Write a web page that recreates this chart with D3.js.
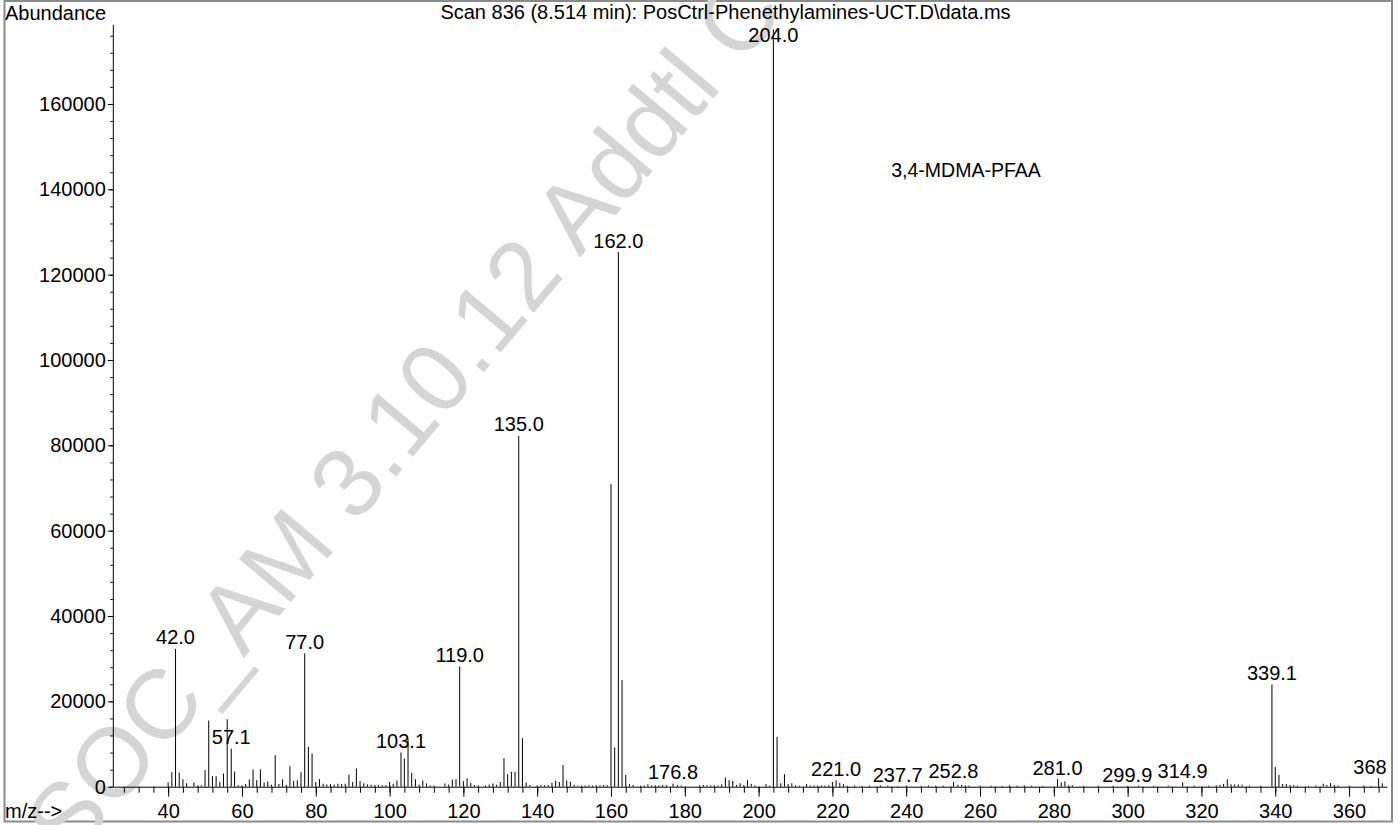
<!DOCTYPE html>
<html>
<head>
<meta charset="utf-8">
<script src="https://cdn.jsdelivr.net/npm/d3@7"></script>
<style>
  html, body { margin: 0; padding: 0; background: #fff; }
  svg { display: block; }
  text { font-family: "Liberation Sans", Arial, Helvetica, sans-serif; fill: #000; }
</style>
</head>
<body>
<svg id="chart" width="1400" height="825"></svg>
<script>
// ---- data ----
const mz = [
  40, 41, 42, 43, 44, 45, 47, 48, 49, 50, 51, 52, 53, 54, 55, 56, 57.1, 58, 59, 60,
  61, 62, 63, 64, 65, 66, 67, 68, 69, 70, 71, 72, 73, 74, 75, 76, 77, 78, 79, 80,
  81, 82, 83, 84, 85, 86, 87, 88, 89, 90, 91, 92, 93, 94, 95, 96, 97, 98, 99, 100,
  101, 102, 103.1, 104, 105, 106, 107, 108, 109, 110, 111, 112, 115, 116, 117, 118, 119, 120,
  121, 122, 123, 124, 126, 127, 128, 129, 130, 131, 132, 133, 134, 135, 136, 137, 138, 140,
  141, 142, 143, 144, 145, 146, 147, 148, 149, 150, 151, 152, 153, 154, 155, 156, 157, 158, 159,
  160, 161, 162, 163, 164, 165, 166, 168, 169, 170, 171, 172, 173, 174, 175, 176.8, 178, 179,
  184, 185, 186, 187, 188, 189, 190, 191, 192, 193, 194, 195, 196, 197, 198, 199, 202, 203,
  204, 205, 206, 207, 208, 209, 210, 211, 213, 214, 215, 216, 217, 218, 219, 220, 221, 222, 223, 224,
  226, 228, 230, 233, 235, 237.7, 240, 244, 246, 248, 250, 252.8, 254, 255, 256, 257, 260, 263, 266, 268,
  270, 272, 274, 277, 281, 282, 283, 284, 285, 288, 292, 296, 299.9, 303, 307, 311, 314.9, 318, 322, 324,
  325, 326, 327, 328, 329, 330, 331, 333, 336, 339.1, 340, 341, 342, 343, 344, 345, 346, 349, 351, 353,
  354, 355, 356, 357, 360, 364, 366, 368, 369
];
const abundance = [
  1000, 3400, 32300, 3330, 1760, 800, 1000, 300, 300, 3870, 15500, 2460, 2460, 1150, 3090, 15800, 8900, 3560, 350, 300,
  650, 1700, 4050, 1550, 4030, 950, 1200, 450, 7390, 650, 1720, 450, 4800, 1330, 1500, 3400, 31250, 9330, 7780, 1100,
  1760, 700, 500, 600, 500, 700, 650, 700, 2800, 1100, 4260, 1300, 800, 550, 450, 400, 350, 350, 400, 1120,
  700, 1450, 8000, 6600, 11300, 3240, 1760, 500, 1450, 800, 300, 250, 750, 500, 1690, 1760, 28180, 1290,
  1960, 900, 400, 300, 300, 500, 750, 450, 1100, 6700, 2930, 3500, 3450, 82200, 11350, 1000, 400, 300,
  400, 350, 400, 900, 1400, 1100, 5070, 1480, 1150, 450, 250, 300, 300, 350, 300, 350, 300, 350, 350,
  70900, 9190, 125300, 24970, 2740, 600, 400, 250, 300, 550, 300, 350, 300, 400, 350, 700, 400, 300,
  300, 400, 350, 300, 350, 300, 550, 2150, 1520, 1400, 400, 800, 400, 1520, 650, 300, 650, 250,
  177500, 11680, 800, 2930, 600, 800, 300, 250, 600, 300, 300, 250, 300, 250, 350, 1100, 1520, 900, 600, 250,
  250, 200, 250, 300, 250, 120, 250, 200, 300, 250, 250, 1100, 450, 400, 300, 250, 250, 250, 200, 300,
  250, 300, 250, 200, 1760, 1000, 1250, 300, 350, 200, 250, 200, 120, 250, 200, 250, 1000, 300, 250, 300,
  400, 650, 1760, 550, 500, 500, 450, 250, 200, 23960, 4650, 2750, 650, 650, 400, 350, 250, 200, 250, 700,
  400, 850, 400, 300, 250, 250, 200, 1950, 800
];
const labelMz   = [42, 57.1, 77, 103.1, 119, 135, 162, 176.8, 204, 221, 237.7, 252.8, 281, 299.9, 314.9, 339.1, 368];
const labelText = ["42.0", "57.1", "77.0", "103.1", "119.0", "135.0", "162.0", "176.8", "204.0", "221.0",
                   "237.7", "252.8", "281.0", "299.9", "314.9", "339.1", "368"];
const xMajorTicks = [40, 60, 80, 100, 120, 140, 160, 180, 200, 220, 240, 260, 280, 300, 320, 340, 360];
const yMajorTicks = [0, 20000, 40000, 60000, 80000, 100000, 120000, 140000, 160000];
const titleText = "Scan 836 (8.514 min): PosCtrl-Phenethylamines-UCT.D\\data.ms";
const compoundText = "3,4-MDMA-PFAA";
const yAxisTitle = "Abundance";
const xAxisTitle = "m/z-->";
const watermarkText = "SOC_AM 3.10.12 Addtl C";

// ---- layout ----
const svg = d3.select("#chart");
const x = d3.scaleLinear().domain([25, 370.2]).range([112.8, 1386.7]);
const y = d3.scaleLinear().domain([0, 178650]).range([786.7, 24.4]);

// frame
svg.append("rect").attr("x", 4.5).attr("y", 1).attr("width", 1387.5).attr("height", 820.5)
  .attr("fill", "none").attr("stroke", "#8a8a8a").attr("stroke-width", 2);

// watermark (clipped to the frame like the reference)
svg.append("clipPath").attr("id", "frameClip")
  .append("rect").attr("x", 0).attr("y", 0).attr("width", 1400).attr("height", 825);
svg.append("g").attr("clip-path", "url(#frameClip)")
  .append("text")
  .attr("transform", "translate(72,863) rotate(-50)")
  .attr("font-size", 98)
  .style("fill", "#d5d5d5")
  .text(watermarkText);

// minor ticks
const xMinor = d3.range(28, 370, 4);
svg.append("g").attr("transform", `translate(0,${y(0)})`)
  .call(d3.axisBottom(x).tickValues(xMinor).tickSize(6).tickSizeOuter(0).tickFormat(""))
  .call(g => g.select(".domain").remove());
const yMinor = d3.range(0, 178000, 4000);
svg.append("g").attr("transform", `translate(${x(25)},0)`)
  .call(d3.axisLeft(y).tickValues(yMinor).tickSize(2.5).tickSizeOuter(0).tickFormat(""))
  .call(g => g.select(".domain").remove());

// major axes
const xAxis = svg.append("g").attr("transform", `translate(0,${y(0)})`)
  .call(d3.axisBottom(x).tickValues(xMajorTicks).tickSize(10).tickSizeOuter(0).tickPadding(7));
xAxis.selectAll("text").attr("font-size", 20).style("font-family", "Liberation Sans, Arial, sans-serif").style("fill", "#000");
xAxis.selectAll("line, path").attr("stroke", "#000");

const yAxis = svg.append("g").attr("transform", `translate(${x(25)},0)`)
  .call(d3.axisLeft(y).tickValues(yMajorTicks).tickSize(5).tickSizeOuter(0).tickPadding(2).tickFormat(d3.format("d")));
yAxis.selectAll("text").attr("font-size", 20).style("font-family", "Liberation Sans, Arial, sans-serif").style("fill", "#000");
yAxis.selectAll("line, path").attr("stroke", "#000");

// spectrum sticks
const peaks = mz.map((m, i) => ({ m, v: abundance[i] }));
svg.append("g").selectAll("line").data(peaks).join("line")
  .attr("x1", d => x(d.m)).attr("x2", d => x(d.m))
  .attr("y1", y(0)).attr("y2", d => y(d.v))
  .attr("stroke", "#000").attr("stroke-width", 1);

// peak labels
const labels = labelMz.map((m, i) => {
  const p = peaks.find(q => q.m === m);
  return { m, v: p ? p.v : 0, t: labelText[i] };
});
const rightLimit = x.range()[1];
svg.append("g").selectAll("text").data(labels).join("text")
  .attr("y", d => Math.max(y(d.v) - 4.5, 42))
  .attr("text-anchor", "middle")
  .attr("font-size", 20)
  .text(d => d.t)
  .each(function (d) {
    const w = this.getComputedTextLength();
    d3.select(this).attr("x", Math.min(x(d.m), rightLimit - w / 2));
  });

// titles
svg.append("text").attr("x", 5).attr("y", 20).attr("font-size", 20).text(yAxisTitle);
svg.append("text").attr("x", 5).attr("y", 818).attr("font-size", 20).text(xAxisTitle);
svg.append("text").attr("x", 725.5).attr("y", 19).attr("text-anchor", "middle").attr("font-size", 20).text(titleText);
svg.append("text").attr("x", 966).attr("y", 177).attr("text-anchor", "middle").attr("font-size", 19.5).text(compoundText);
</script>
</body>
</html>
